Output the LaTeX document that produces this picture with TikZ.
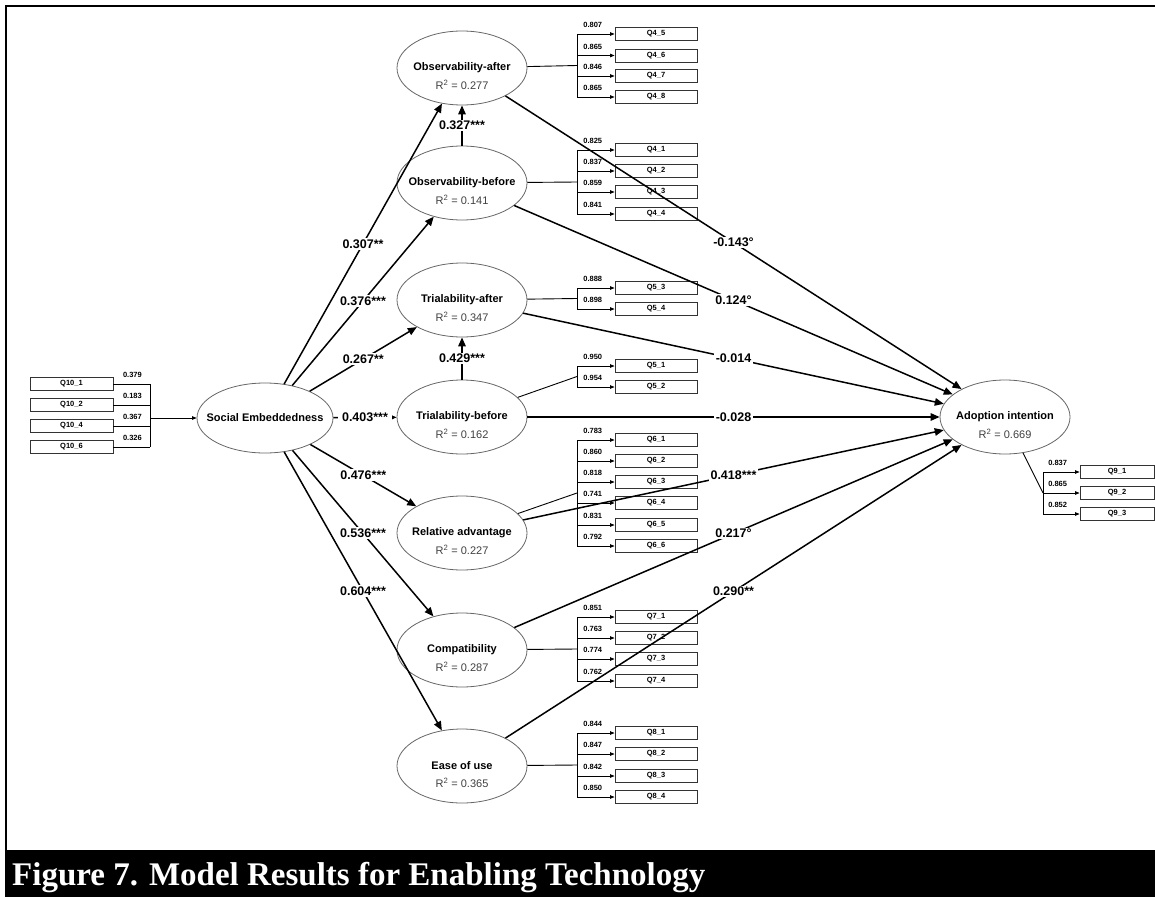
\documentclass[tikz,border=0pt]{standalone}
\usepackage{fontspec}
\setmainfont{Liberation Sans}
\newfontfamily\capfont{Liberation Serif}
\usetikzlibrary{arrows.meta,shapes.geometric}

\begin{document}
\begin{tikzpicture}[x=1pt,y=-1pt,
  latent/.style={ellipse, draw=black!60, line width=0.8pt, minimum width=130pt, minimum height=74pt, inner sep=0pt},
  ttl/.style={font=\fontsize{11}{13}\selectfont\bfseries, inner sep=0pt},
  rsq/.style={font=\fontsize{11}{13}\selectfont, text=black!75, inner sep=0pt},
  ind/.style={draw=black!80, line width=0.9pt, minimum width=82pt, minimum height=13pt, inner sep=0pt, font=\fontsize{7.5}{9}\selectfont\bfseries},
  ldv/.style={font=\fontsize{7.5}{9}\selectfont\bfseries, inner sep=0pt},
  struct/.style={line width=1.5pt, -{Triangle[length=9pt,width=7.5pt]}},
  coef/.style={fill=white, inner sep=1.5pt, font=\fontsize{12.5}{14}\selectfont\bfseries},
  ld/.style={line width=0.7pt, -{Triangle[length=4.5pt,width=3.5pt]}},
  lnk/.style={line width=0.9pt}
]
\useasboundingbox (0,0) rectangle (1155,896);
\clip (0,0) rectangle (1155,896);

% frame and caption bar
\draw[line width=2.5pt] (6,850) -- (6,6) -- (1160,6);
\fill[black] (5,850) rectangle (1160,900);
\node[font=\capfont\bfseries\fontsize{33}{36}\selectfont, text=white, anchor=base west, inner sep=0pt] (cap) at (12,885) {Figure 7. Model Results for Enabling Technology};

% reflective indicators of the mediators
\foreach \nm/\lb/\yy/\vv in {
  q45/Q4\_5/34/0.807, q46/Q4\_6/55.5/0.865, q47/Q4\_7/76/0.846, q48/Q4\_8/97/0.865,
  q41/Q4\_1/150/0.825, q42/Q4\_2/171/0.837, q43/Q4\_3/192/0.859, q44/Q4\_4/214/0.841,
  q53/Q5\_3/288/0.888, q54/Q5\_4/309/0.898,
  q51/Q5\_1/366/0.950, q52/Q5\_2/387/0.954,
  q61/Q6\_1/440/0.783, q62/Q6\_2/461/0.860, q63/Q6\_3/482/0.818, q64/Q6\_4/503/0.741, q65/Q6\_5/525/0.831, q66/Q6\_6/546/0.792,
  q71/Q7\_1/617/0.851, q72/Q7\_2/638/0.763, q73/Q7\_3/659/0.774, q74/Q7\_4/681/0.762,
  q81/Q8\_1/733/0.844, q82/Q8\_2/754/0.847, q83/Q8\_3/776/0.842, q84/Q8\_4/797/0.850}
{
  \node[ind] (\nm) at (656,\yy) {\lb};
  \coordinate (\nm-j) at (577,\yy);
  \draw[ld] (\nm-j) -- (\nm) node[ldv, pos=0.42, yshift=9pt] {\vv};
}

% formative indicators of social embeddedness
\foreach \nm/\lb/\yy/\vv in {q101/Q10\_1/384/0.379, q102/Q10\_2/405/0.183, q104/Q10\_4/426/0.367, q106/Q10\_6/447/0.326}
{
  \node[ind, minimum width=83pt] (\nm) at (71.5,\yy) {\lb};
  \coordinate (\nm-j) at (150,\yy);
  \draw[lnk] (\nm) -- (\nm-j) node[ldv, pos=0.52, yshift=9pt] {\vv};
}

% indicators of adoption intention
\foreach \nm/\lb/\yy/\vv in {q91/Q9\_1/472/0.837, q92/Q9\_2/493/0.865, q93/Q9\_3/514/0.852}
{
  \node[ind, minimum width=74pt] (\nm) at (1117,\yy) {\lb};
  \coordinate (\nm-j) at (1043,\yy);
  \draw[ld] (\nm-j) -- (\nm) node[ldv, pos=0.4, yshift=9pt] {\vv};
}

% latent constructs
\node[latent, minimum width=136pt, minimum height=70pt] (SE) at (265,418) {};
\node[ttl] (SEt) at (SE.center) {Social Embeddedness};

\foreach \nm/\xx/\yy/\tt/\rr in {
  OA/462/68/Observability-after/0.277,
  OB/462/183/Observability-before/0.141,
  TA/462/300/Trialability-after/0.347,
  TB/462/417/Trialability-before/0.162,
  RA/462/533/Relative advantage/0.227,
  CO/462/650/Compatibility/0.287,
  EU/462/766/Ease of use/0.365,
  AI/1005/417/Adoption intention/0.669}
{
  \node[latent] (\nm) at (\xx,\yy) {};
  \node[ttl] (\nm-t) at (\nm.center) {\tt};
  \node[rsq] (\nm-r) at ([yshift=-17pt]\nm.center) {R\textsuperscript{2} = \rr};
}

% construct-to-indicator links
\coordinate (bSE) at (150,418);
\coordinate (bOA) at (577,65.5);
\coordinate (bOB) at (577,182);
\coordinate (bTA) at (577,298.5);
\coordinate (bTB) at (577,376.5);
\coordinate (bRA) at (577,493);
\coordinate (bCO) at (577,649);
\coordinate (bEU) at (577,765);
\coordinate (bAI) at (1043,493);

\draw[lnk] (q101-j) -- (q106-j);
\draw[ld] (bSE) -- (SE);
\draw[lnk] (q45-j) -- (q48-j);  \draw[lnk] (OA) -- (bOA);
\draw[lnk] (q41-j) -- (q44-j);  \draw[lnk] (OB) -- (bOB);
\draw[lnk] (q53-j) -- (q54-j);  \draw[lnk] (TA) -- (bTA);
\draw[lnk] (q51-j) -- (q52-j);  \draw[lnk] (TB) -- (bTB);
\draw[lnk] (q61-j) -- (q66-j);  \draw[lnk] (RA) -- (bRA);
\draw[lnk] (q71-j) -- (q74-j);  \draw[lnk] (CO) -- (bCO);
\draw[lnk] (q81-j) -- (q84-j);  \draw[lnk] (EU) -- (bEU);
\draw[lnk] (q91-j) -- (q93-j);  \draw[lnk] (AI) -- (bAI);

% structural paths from social embeddedness
\draw[struct] (SE) -- node[coef] {0.307**} (OA);
\draw[struct] (SE) -- node[coef] {0.376***} (OB);
\draw[struct] (SE) -- node[coef] {0.267**} (TA);
\draw[struct] (SE) -- node[coef, inner xsep=4.5pt] {0.403***} (TB);
\draw[struct] (SE) -- node[coef] {0.476***} (RA);
\draw[struct] (SE) -- node[coef] {0.536***} (CO);
\draw[struct] (SE) -- node[coef] {0.604***} (EU);

% before -> after
\draw[struct] (OB) -- node[coef] {0.327***} (OA);
\draw[struct] (TB) -- node[coef] {0.429***} (TA);

% paths into adoption intention
\draw[struct] (OA) -- node[coef] {-0.143°} (AI);
\draw[struct] (OB) -- node[coef] {0.124°} (AI);
\draw[struct] (TA) -- node[coef] {-0.014} (AI);
\draw[struct] (TB) -- node[coef] {-0.028} (AI);
\draw[struct] (RA) -- node[coef] {0.418***} (AI);
\draw[struct] (CO) -- node[coef] {0.217°} (AI);
\draw[struct] (EU) -- node[coef] {0.290**} (AI);
\end{tikzpicture}
\end{document}
